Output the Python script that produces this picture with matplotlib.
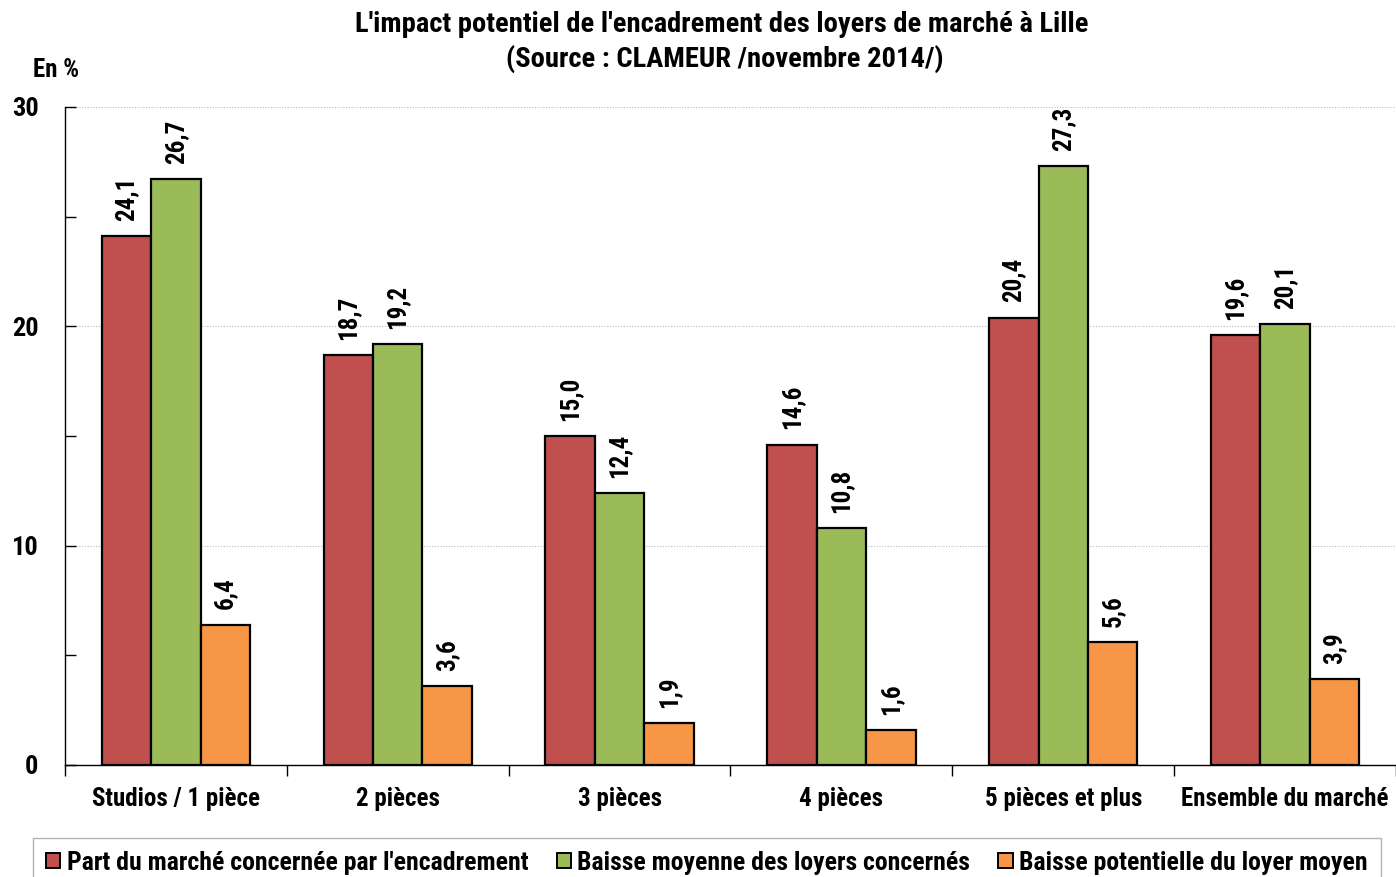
import matplotlib.pyplot as plt
import numpy as np
from matplotlib import font_manager

# Police étroite et grasse : on prend la première famille disponible en gras
familles_grasses = {f.name for f in font_manager.fontManager.ttflist
                    if isinstance(f.weight, int) and f.weight >= 700 or f.weight == 'bold'}
preferences = ['Liberation Sans Narrow', 'Roboto Condensed', 'Encode Sans Semi Condensed',
               'Fira Sans Condensed', 'Liberation Sans']
police = next((p for p in preferences if p in familles_grasses), 'DejaVu Sans')
plt.rcParams['font.family'] = [police, 'DejaVu Sans']
plt.rcParams['font.weight'] = 'bold'

categories = ['Studios / 1 pièce', '2 pièces', '3 pièces', '4 pièces',
              '5 pièces et plus', 'Ensemble du marché']
part_marche = [24.1, 18.7, 15.0, 14.6, 20.4, 19.6]
baisse_moyenne = [26.7, 19.2, 12.4, 10.8, 27.3, 20.1]
baisse_potentielle = [6.4, 3.6, 1.9, 1.6, 5.6, 3.9]

series = [
    (part_marche, "Part du marché concernée par l'encadrement", '#C0504D'),
    (baisse_moyenne, 'Baisse moyenne des loyers concernés', '#9BBB59'),
    (baisse_potentielle, 'Baisse potentielle du loyer moyen', '#F79646'),
]

fig = plt.figure(figsize=(13.96, 8.77), dpi=100)
ax = fig.add_axes([65 / 1396, 1 - 765 / 877, 1 - 65 / 1396, (765 - 107) / 877])

x = np.arange(len(categories))
largeur = 0.223
for i, (valeurs, nom, couleur) in enumerate(series):
    pos = x + (i - 1) * largeur
    ax.bar(pos, valeurs, width=largeur, color=couleur, edgecolor='black',
           linewidth=1.6, label=nom, zorder=3)
    for xb, v in zip(pos, valeurs):
        ax.annotate(f'{v:.1f}'.replace('.', ','), (xb, v), xytext=(0, 11),
                    textcoords='offset points', rotation=90, ha='center', va='bottom',
                    fontsize=18, fontweight='bold')

ax.set_xlim(-0.5, len(categories) - 0.5)
ax.set_ylim(0, 30)
ax.set_yticks([0, 10, 20, 30])
ax.set_yticks([5, 15, 25], minor=True)
ax.tick_params(axis='y', which='both', direction='in', length=8, width=1,
               labelsize=19, pad=19)
ax.set_xticks(x)
ax.set_xticklabels(categories, fontsize=18)
ax.set_xticks(np.arange(len(categories) + 1) - 0.5, minor=True)
ax.tick_params(axis='x', which='major', length=0, pad=16)
ax.tick_params(axis='x', which='minor', direction='out', length=8, width=1)
ax.grid(axis='y', which='major', color='#BBBBBB', linestyle=(0, (1, 1.5)), linewidth=0.8, zorder=0)

for cote in ['top', 'right']:
    ax.spines[cote].set_visible(False)
ax.spines['left'].set_linewidth(1)
ax.spines['bottom'].set_linewidth(1)

fig.text(722 / 1396, 1 - 25 / 877, "L'impact potentiel de l'encadrement des loyers de marché à Lille",
         ha='center', va='center', fontsize=20.5, fontweight='bold')
fig.text(725 / 1396, 1 - 59 / 877, '(Source : CLAMEUR /novembre 2014/)',
         ha='center', va='center', fontsize=20.5, fontweight='bold')
fig.text(33 / 1396, 1 - 70 / 877, 'En %', ha='left', va='center', fontsize=18, fontweight='bold')

leg = fig.legend(loc='upper center', bbox_to_anchor=(707 / 1396, 1 - 838 / 877), ncol=3,
                 fontsize=18.5, frameon=True, fancybox=False, edgecolor='#A0A0A0',
                 handlelength=0.55, handleheight=0.55, handletextpad=0.25,
                 columnspacing=1.1, borderpad=0.5, borderaxespad=0)
leg.get_frame().set_linewidth(1)
for h in leg.legend_handles:
    h.set_linewidth(1.4)

fig.savefig('out.png', dpi=100)
